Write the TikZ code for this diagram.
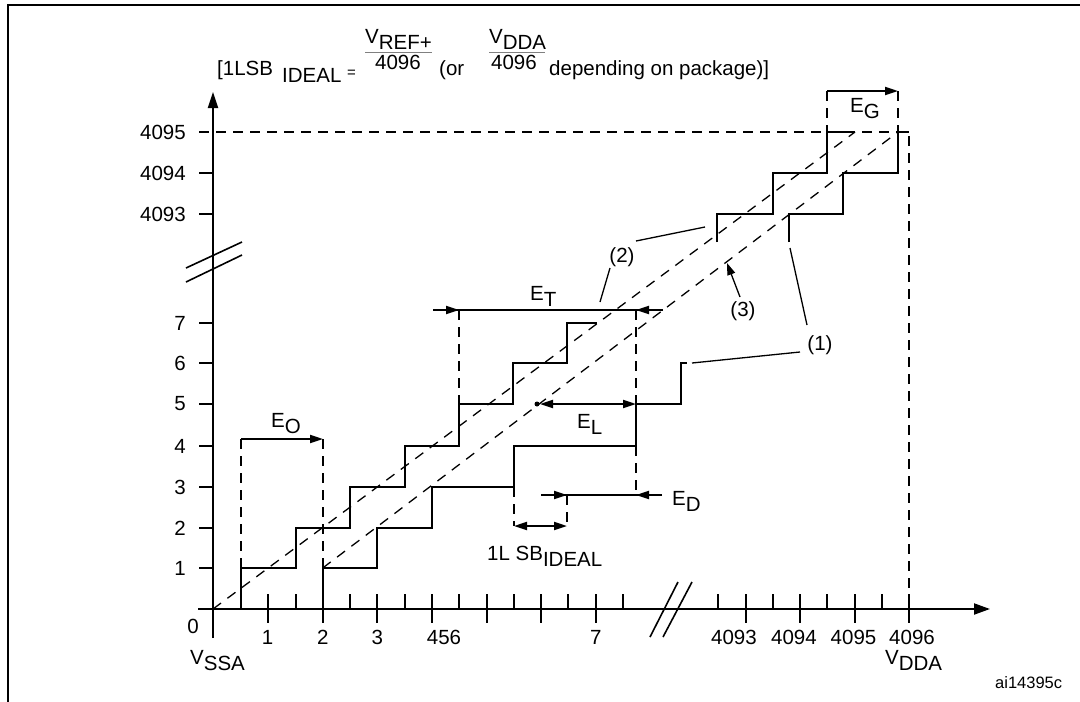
\documentclass[tikz,border=0pt]{standalone}
\usepackage{fontspec}
\setmainfont{Liberation Sans}
\usetikzlibrary{arrows.meta}
\newcommand{\lowr}[1]{\raisebox{-6pt}{#1}}
\begin{document}
\begin{tikzpicture}[x=1pt,y=-1pt,
  every node/.style={inner sep=0pt, font=\fontsize{20.5}{24}\selectfont},
  stair/.style={line width=2pt, line join=miter},
  axisline/.style={line width=2pt},
  guide/.style={line width=1.8pt, dash pattern=on 10pt off 7pt},
  ideal/.style={line width=1.3pt, dash pattern=on 10pt off 8pt},
  leader/.style={line width=1.3pt},
  arr/.style={line width=2pt, -{Triangle[length=13pt,width=8pt]}},
  darr/.style={line width=2pt, {Triangle[length=13pt,width=8pt]}-{Triangle[length=13pt,width=8pt]}},
  ]
\useasboundingbox (0,0) rectangle (1080,702);
\fill[white] (0,0) rectangle (1080,702);
% frame
\draw[line width=2.7pt] (8,702) -- (8,5) -- (1081,5);

% formula
\node[anchor=base west] (f1) at (217,75) {[1LSB};
\node[anchor=base west] (f2) at (282,82) {IDEAL};
\node[anchor=base west, font=\fontsize{15}{18}\selectfont] (f3) at (347,77) {=};
\node[anchor=base west] (f4) at (365,43) {V\lowr{REF+}};
\draw[line width=1pt, black!50] (365,52) -- (432,52);
\node[anchor=base] (f5) at (398,69) {4096};
\node[anchor=base west] (f6) at (439,75) {(or};
\node[anchor=base west] (f7) at (489,43) {V\lowr{DDA}};
\draw[line width=1pt, black!50] (489,52) -- (545,52);
\node[anchor=base] (f8) at (514,69) {4096};
\node[anchor=base west] (f9) at (549,75) {depending on package)]};

% axes
\draw[axisline, -{Triangle[length=16pt,width=10pt]}] (213,638) -- (213,92);
\draw[axisline, -{Triangle[length=16pt,width=11pt]}] (198,609) -- (990,609);
\foreach \y in {173,214,323,363,404,446,487,528,568}
  \draw[axisline] (199,\y) -- (213,\y);
\foreach \x in {267.6,322.7,377.3,431.7,486.7,541,595.7,745.7,799.7,854.7,909}
  \draw[axisline] (\x,594) -- (\x,623);
\foreach \x in {296,350,405,459,514,567.7,622.7,718.3,772.7,826.7,882}
  \draw[axisline] (\x,594) -- (\x,609);
% breaks
\draw[line width=1.6pt] (186,268) -- (242,242) (186,282) -- (242,255);
\draw[line width=1.6pt] (650,637) -- (678,582) (663,637) -- (692,582);

% y labels
\node[anchor=east] (y4095) at (186,132) {4095};
\node[anchor=east] (y4094) at (186,173) {4094};
\node[anchor=east] (y4093) at (186,214) {4093};
\node[anchor=east] (y7) at (186,323) {7};
\node[anchor=east] (y6) at (186,363) {6};
\node[anchor=east] (y5) at (186,404) {5};
\node[anchor=east] (y4) at (186,446) {4};
\node[anchor=east] (y3) at (186,487) {3};
\node[anchor=east] (y2) at (186,528) {2};
\node[anchor=east] (y1) at (186,568) {1};
\node (y0) at (193,626) {0};
% x labels
\node (x1) at (267.6,637) {1};
\node (x2) at (322.7,637) {2};
\node (x3) at (377.3,637) {3};
\node (x456) at (444,637) {456};
\node (x7) at (595.7,637) {7};
\node (x4093) at (734,637) {4093};
\node (x4094) at (794,637) {4094};
\node (x4095) at (853.5,637) {4095};
\node (x4096) at (912,637) {4096};
\node[anchor=base west] (vssa) at (190,664) {V\lowr{SSA}};
\node[anchor=base west] (vdda) at (885,664) {V\lowr{DDA}};
\node[anchor=base west, font=\fontsize{16.5}{19}\selectfont] (code) at (995,688) {ai14395c};

% 4095 / 4096 limits
\draw[guide] (199,132) -- (909,132) -- (909,609);

% ideal lines
\draw[ideal] (213,609) -- (855,132);
\draw[ideal] (322.7,568) -- (898,132);

% staircases
\draw[stair] (241,609) |- (296,568) |- (350,528) |- (405,487) |- (459,446) |- (513,404) |- (567,363) |- (597,323);
\draw[stair] (322.7,609) |- (377.3,568) |- (431.7,528) |- (514,487) |- (636,446) |- (681,404) |- (687,363);
\draw[stair] (717,242) |- (773,214) |- (827,173) |- (855,132);
\draw[stair] (789,242) |- (843,214) |- (898,173) |- (909,132);

% E_O
\draw[guide] (241,439) -- (241,568);
\draw[guide] (323,439) -- (323,568);
\draw[arr] (241,439) -- (323,439);
\node[anchor=base west] (eo) at (271,427) {E\lowr{O}};

% E_T
\draw[guide] (459,310) -- (459,404);
\draw[guide] (636,310) -- (636,404);
\draw[guide] (636,446) -- (636,495);
\draw[line width=2pt] (433,310) -- (663,310);
\draw[arr] (433,310) -- (459,310);
\draw[arr] (663,310) -- (636,310);
\node[anchor=base west] (et) at (530,300) {E\lowr{T}};

% E_L
\fill (537,404) circle (2.5);
\draw[darr] (540,404) -- (636,404);
\node[anchor=base west] (el) at (577,428) {E\lowr{L}};

% E_D
\draw[line width=2pt] (541,495) -- (662,495);
\draw[arr] (541,495) -- (567,495);
\draw[arr] (662,495) -- (636,495);
\node[anchor=base west] (ed) at (672,505) {E\lowr{D}};
\draw[guide] (567,495) -- (567,526);
\draw[guide] (514,487) -- (514,526);
\draw[darr] (514,526) -- (567,526);
\node[anchor=base west] (lsb) at (487,560) {1L SB\lowr{IDEAL}};

% E_G
\draw[guide] (827,91) -- (827,132);
\draw[guide] (898,91) -- (898,132);
\draw[arr] (827,91) -- (898,91);
\node[anchor=base west] (eg) at (850,112) {E\lowr{G}};

% callouts
\node (c1) at (820,345) {(1)};
\node (c2) at (622,257) {(2)};
\node (c3) at (743,311) {(3)};
\draw[leader] (807,325) -- (790,248);
\draw[leader] (800,352) -- (692,363);
\draw[leader] (600,302) -- (610,268);
\draw[leader] (636,241) -- (705,227);
\draw[line width=1.3pt, -{Triangle[length=12pt,width=8pt]}] (740,297) -- (727,263);
\end{tikzpicture}
\end{document}
